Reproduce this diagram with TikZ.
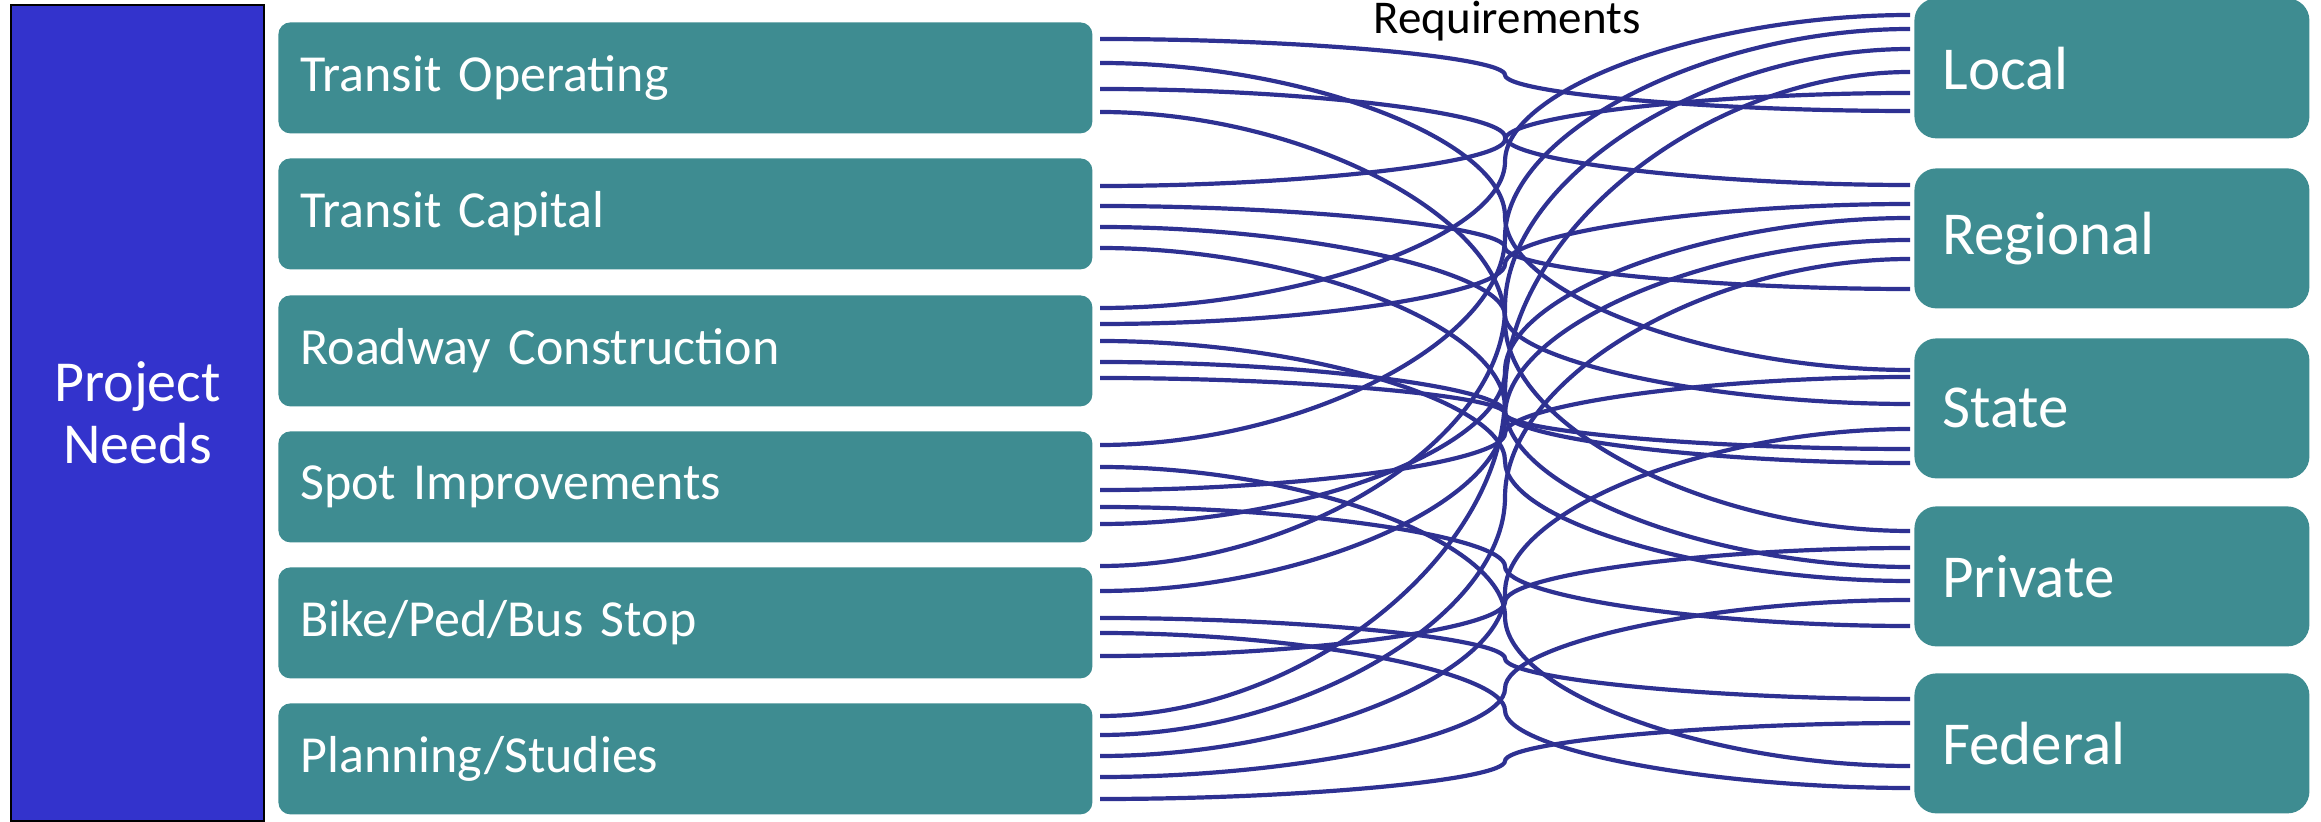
\documentclass[tikz,border=0pt]{standalone}
\usepackage{fontspec}
\setmainfont{Carlito}
\usetikzlibrary{calc}
\usetikzlibrary{positioning}
\definecolor{needs-blue}{RGB}{51, 51, 204}
\definecolor{box-teal}{RGB}{62, 140, 145}
\definecolor{link-navy}{RGB}{46, 49, 146}

\begin{document}
\begin{tikzpicture}[x=0.5pt, y=-0.5pt,
    needbox/.style={fill=box-teal, rounded corners=6pt, anchor=north west,
        minimum width=407pt, minimum height=55.5pt, inner xsep=11pt,
        text width=385pt, align=left, text=white,
        font=\fontsize{26}{30}\selectfont},
    fundbox/.style={fill=box-teal, rounded corners=11pt, anchor=north west,
        minimum width=197.5pt, minimum height=70pt, inner xsep=14pt,
        text width=169.5pt, align=left, text=white,
        font=\fontsize{30.5}{34}\selectfont},
    fundlink/.style={draw=link-navy, line width=2.1pt}]
\useasboundingbox (0,0) rectangle (2321,822);

\node[fill=needs-blue, draw=black, line width=1pt, anchor=north west,
    minimum width=126.5pt, minimum height=408pt, align=center, text=white,
    font=\fontsize{29}{31}\selectfont] (needs) at (10,4) {Project\\Needs};

\node[needbox] (tops) at (278,22) {Transit Operating};
\node[needbox] (tcap) at (278,158) {Transit Capital};
\node[needbox] (road) at (278,295) {Roadway Construction};
\node[needbox] (spot) at (278,431) {Spot Improvements};
\node[needbox] (bike) at (278,567) {Bike/Ped/Bus Stop};
\node[needbox] (plan) at (278,703) {Planning/Studies};

\node[fundbox] (local) at (1914,-2) {Local};
\node[fundbox] (regional) at (1914,168) {Regional};
\node[fundbox] (state) at (1914,338) {State};
\node[fundbox] (private) at (1914,506) {Private};
\node[fundbox] (federal) at (1914,673) {Federal};

\node[anchor=base, font=\fontsize{23.5}{28}\selectfont] (req) at (1507,34) {Requirements};

% each need is linked to one source, bending through the middle column
\foreach \a/\b [count=\i] in {39/111, 63/370, 89/185, 112/531, 186/93, 206/289,
    227/404, 248/567, 308/15, 324/204, 341/581, 362/463, 378/449, 445/29,
    467/766, 490/377, 507/626, 524/218, 566/49, 591/240, 618/699, 633/788,
    656/548, 716/72, 735/259, 756/429, 777/600, 799/723} {
  \coordinate (src-\i) at (1100,\a);
  \coordinate (dst-\i) at (1910,\b);
  \coordinate (mid-\i) at ($(src-\i)!.5!(dst-\i)$);
  \draw[fundlink] (src-\i) .. controls ($(src-\i)!.5!(mid-\i |- src-\i)$)
      and ($(mid-\i)!.5!(mid-\i |- src-\i)$) .. (mid-\i)
      .. controls ($(mid-\i)!.5!(mid-\i |- dst-\i)$)
      and ($(dst-\i)!.5!(mid-\i |- dst-\i)$) .. (dst-\i);
}
\end{tikzpicture}
\end{document}
